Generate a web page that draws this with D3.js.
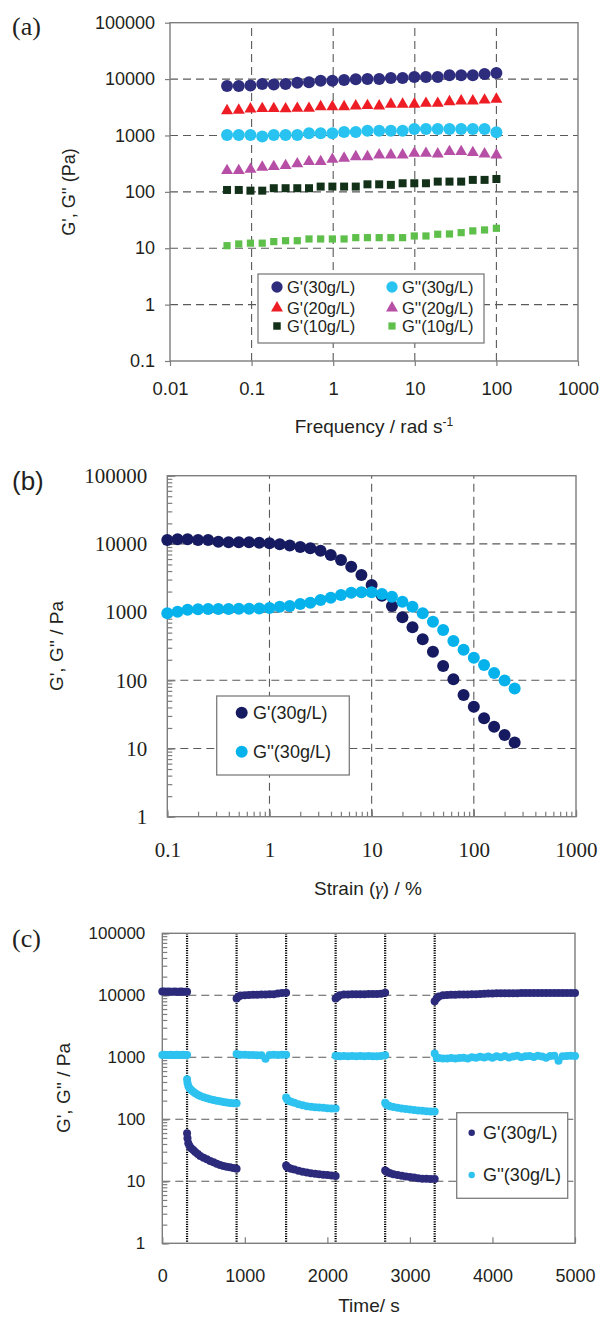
<!DOCTYPE html>
<html>
<head>
<meta charset="utf-8">
<script src="https://cdn.jsdelivr.net/npm/d3@7"></script>
<style>
  body { margin: 0; background: #fff; }
</style>
</head>
<body>
<script>
// ---------- panel (a): frequency sweep ----------
var freqA = [0.05, 0.0696, 0.0968, 0.135, 0.187, 0.261, 0.363, 0.505, 0.702, 0.977, 1.36, 1.89,
  2.63, 3.66, 5.09, 7.09, 9.86, 13.7, 19.1, 26.6, 37.0, 51.4, 71.6, 100];
var gp30A = [7550, 7550, 7700, 8150, 8050, 8150, 8600, 8800, 9300, 9300, 9600, 9900,
  10000, 10000, 10500, 10500, 10900, 10900, 10900, 11700, 11700, 11700, 12300, 12800];
var gpp30A = [1020, 1020, 1020, 955, 1020, 1020, 1020, 1094, 1094, 1094, 1155, 1155,
  1217, 1217, 1217, 1217, 1304, 1304, 1304, 1304, 1304, 1304, 1304, 1140];
var gp20A = [2750, 2800, 2950, 3000, 3000, 2960, 3030, 3030, 3240, 3240, 3240, 3340,
  3380, 3340, 3575, 3575, 3575, 3720, 3720, 3975, 4090, 4090, 4250, 4385];
var gpp20A = [238, 238, 251, 273, 280, 292, 313, 343, 343, 378, 394, 420,
  420, 451, 451, 451, 483, 483, 470, 516, 516, 496, 470, 451];
var gp10A = [108, 108, 105, 105, 116, 116, 116, 116, 124, 124, 124, 124,
  136, 136, 133, 142, 142, 142, 152, 152, 152, 163, 163, 169];
var gpp10A = [11.1, 11.9, 12.3, 12.3, 13.1, 13.6, 13.6, 14.6, 14.6, 14.6, 14.6, 15.4,
  15.4, 15.4, 15.4, 15.4, 16.5, 16.5, 17.7, 17.9, 18.9, 20.3, 21.1, 22.6];
var xTicksA = [0.01, 0.1, 1, 10, 100, 1000];
var yTicksA = [0.1, 1, 10, 100, 1000, 10000, 100000];

// ---------- panel (b): strain sweep ----------
var strainB = [0.1, 0.126, 0.158, 0.2, 0.251, 0.316, 0.398, 0.501, 0.631, 0.794, 1, 1.26,
  1.58, 2, 2.51, 3.16, 3.98, 5.01, 6.31, 7.94, 10, 12.6, 15.8, 20, 25.1, 31.6, 39.8, 50.1,
  63.1, 79.4, 100, 126, 158, 200, 251];
var gpB = [11400, 11700, 11700, 11400, 11400, 10770, 10550, 10550, 10550, 10420, 10200, 9860,
  9480, 9010, 8620, 7950, 6880, 5810, 4630, 3500, 2500, 1740, 1230, 839, 598, 399, 262, 162,
  103.5, 60.8, 41, 27.7, 20.9, 15.8, 12.2];
var gppB = [960, 1014, 1082, 1099, 1110, 1110, 1110, 1120, 1120, 1130, 1150, 1200,
  1228, 1315, 1374, 1503, 1626, 1782, 1925, 1950, 1950, 1842, 1682, 1420, 1200, 960, 723, 546,
  377, 281, 214, 167, 128, 99, 76];
var xTicksB = [0.1, 1, 10, 100, 1000];
var yTicksB = [1, 10, 100, 1000, 10000, 100000];

// ---------- panel (c): step strain / recovery ----------
var tRest1 = [0, 25, 50, 75, 100, 125, 150, 175, 200, 225, 250, 275, 300];
var gpRest1 = [11500, 11500, 11400, 11500, 11400, 11400, 11500, 11400, 11400, 11500, 11400, 11400, 11400];
var gppRest1 = [1090, 1100, 1090, 1090, 1100, 1090, 1090, 1100, 1090, 1090, 1100, 1090, 1090];

var tStrain1 = [300, 305, 315, 330, 350, 375, 400, 430, 460, 500, 540, 580, 620, 660, 700, 740, 780, 820, 860, 900];
var gpStrain1 = [59.5, 49.4, 41, 37, 34, 32, 29.7, 27.5, 25.6, 24, 22.6, 21.2, 20.2, 19.2, 18.3, 17.7, 17.2, 16.8, 16.4, 16.0];
var gppStrain1 = [442, 389, 344, 316, 297, 279, 263, 249, 238, 226, 218, 210, 205, 200, 195, 190, 186, 184, 182, 181];

var tRest2 = [900, 925, 950, 1000, 1050, 1100, 1150, 1200, 1250, 1300, 1350, 1400, 1450, 1500];
var gpRest2 = [8900, 9600, 9900, 10000, 10100, 10200, 10200, 10300, 10300, 10400, 10400, 10700, 10900, 11000];
var gppRest2 = [1130, 1100, 1100, 1100, 1090, 1090, 1080, 1080, 950, 1090, 1100, 1090, 1100, 1100];

var tStrain2 = [1500, 1510, 1530, 1560, 1600, 1650, 1700, 1750, 1800, 1850, 1900, 1950, 2000, 2050, 2100];
var gpStrain2 = [18, 17, 16.5, 16, 15.5, 14.8, 14.3, 13.9, 13.5, 13.2, 13, 12.8, 12.6, 12.4, 12.2];
var gppStrain2 = [225, 210, 200, 192, 185, 175, 168, 163, 160, 157, 155, 153, 151, 150, 149];

var tRest3 = [2100, 2125, 2150, 2200, 2250, 2300, 2350, 2400, 2450, 2500, 2550, 2600, 2650, 2700];
var gpRest3 = [8900, 9500, 10000, 10300, 10300, 10400, 10400, 10400, 10400, 10500, 10500, 10500, 10600, 11000];
var gppRest3 = [1060, 1050, 1040, 1050, 1040, 1050, 1040, 1050, 1040, 1050, 1040, 1040, 1050, 1080];

var tStrain3 = [2700, 2710, 2730, 2760, 2800, 2850, 2900, 2950, 3000, 3050, 3100, 3150, 3200, 3250, 3300];
var gpStrain3 = [15, 14.5, 14, 13.5, 13, 12.6, 12.3, 12, 11.7, 11.5, 11.2, 11, 11, 10.9, 10.9];
var gppStrain3 = [185, 175, 168, 163, 158, 153, 150, 147, 144, 141, 139, 137, 135, 134, 133];

var tRest4 = [3300, 3325, 3350, 3400, 3450, 3500, 3550, 3600, 3650, 3700, 3750, 3800, 3850, 3900,
  3950, 4000, 4050, 4100, 4150, 4200, 4250, 4300, 4350, 4400, 4450, 4500, 4550, 4600, 4650,
  4700, 4750, 4800, 4850, 4900, 4950, 5000];
var gpRest4 = [8000, 9000, 9600, 10000, 10100, 10200, 10200, 10300, 10300, 10300, 10400, 10400,
  10500, 10600, 10700, 10700, 10800, 10800, 10800, 10800, 10800, 10800, 10900, 10900, 10900,
  10900, 10900, 10900, 10900, 10900, 10900, 10900, 10900, 10900, 10900, 10900];
var gppRest4 = [1150, 980, 970, 960, 960, 970, 960, 970, 980, 960, 1000, 980, 1020, 990, 1030,
  980, 1040, 1000, 1050, 990, 1030, 1060, 1000, 1040, 1050, 1010, 1060, 1030, 980, 1050, 1060,
  880, 1040, 1050, 1060, 1050];

var stepTimes = [300, 900, 1500, 2100, 2700, 3300];
var xTicksC = [0, 1000, 2000, 3000, 4000, 5000];
var yTicksC = [1, 10, 100, 1000, 10000, 100000];

// ---------- setup ----------
var width = 602, height = 1317;
var sans = "'Liberation Sans', Arial, Helvetica, sans-serif";
var serif = "'Liberation Serif', 'Times New Roman', Times, serif";
var gridCol = "#5a5a5a", frameCol = "#7d7d7d", textCol = "#231f20";

var svg = d3.select("body").append("svg")
  .attr("width", width)
  .attr("height", height)
  .style("background", "#fff");

function addGrid(g, xs, ys, xVals, yVals) {
  var xr = xs.range(), yr = ys.range();
  g.selectAll(null).data(xVals).enter().append("line")
    .attr("x1", function(d) { return xs(d); })
    .attr("x2", function(d) { return xs(d); })
    .attr("y1", yr[0]).attr("y2", yr[1])
    .attr("stroke", gridCol).attr("stroke-width", 1.1)
    .attr("stroke-dasharray", "8,5");
  g.selectAll(null).data(yVals).enter().append("line")
    .attr("y1", function(d) { return ys(d); })
    .attr("y2", function(d) { return ys(d); })
    .attr("x1", xr[0]).attr("x2", xr[1])
    .attr("stroke", gridCol).attr("stroke-width", 1.1)
    .attr("stroke-dasharray", "8,5");
}

function addFrame(g, xs, ys) {
  var xr = xs.range(), yr = ys.range();
  g.append("rect")
    .attr("x", xr[0]).attr("y", yr[1])
    .attr("width", xr[1] - xr[0]).attr("height", yr[0] - yr[1])
    .attr("fill", "none").attr("stroke", frameCol).attr("stroke-width", 1.4);
}

function styleAxis(sel, font, size) {
  sel.select(".domain").remove();
  sel.selectAll(".tick line").attr("stroke", frameCol).attr("stroke-width", 1.2);
  sel.selectAll("text").attr("font-family", font).attr("font-size", size).attr("fill", textCol);
}

function dots(g, xv, yv, xs, ys, r, col) {
  g.selectAll(null).data(xv).enter().append("circle")
    .attr("cx", function(d) { return xs(d); })
    .attr("cy", function(d, i) { return ys(yv[i]); })
    .attr("r", r)
    .attr("fill", col);
}

function symbols(g, xv, yv, xs, ys, type, size, col) {
  g.selectAll(null).data(xv).enter().append("path")
    .attr("d", d3.symbol().type(type).size(size))
    .attr("transform", function(d, i) { return "translate(" + xs(d) + "," + ys(yv[i]) + ")"; })
    .attr("fill", col);
}

function legendBox(g, x, y, w, h) {
  g.append("rect").attr("x", x).attr("y", y).attr("width", w).attr("height", h)
    .attr("fill", "#fff").attr("stroke", frameCol).attr("stroke-width", 1.3);
}

function legendText(g, x, y, txt, size) {
  g.append("text").attr("x", x).attr("y", y).attr("dy", "0.35em")
    .attr("font-family", sans).attr("font-size", size).attr("fill", textCol)
    .text(txt);
}

// ================= panel (a) =================
var xA = d3.scaleLog().domain([0.01, 1000]).range([170, 578]);
var yA = d3.scaleLog().domain([0.1, 100000]).range([361, 22.7]);
var gA = svg.append("g");

addGrid(gA, xA, yA, [0.1, 1, 10, 100], [1, 10, 100, 1000, 10000]);

gA.append("g").attr("transform", "translate(170,0)")
  .call(d3.axisLeft(yA).tickValues(yTicksA).tickFormat(d3.format("~g")).tickSize(5).tickPadding(10))
  .call(styleAxis, sans, "18px");
gA.append("g").attr("transform", "translate(0,361)")
  .call(d3.axisBottom(xA).tickValues(xTicksA).tickFormat(d3.format("~g")).tickSize(5).tickPadding(16))
  .call(styleAxis, sans, "18.5px");
addFrame(gA, xA, yA);

var colNavyA = "#2e2c7d", colRed = "#ee1d25", colSky = "#28c3f0",
    colMag = "#b74fa6", colDkGreen = "#133019", colLtGreen = "#5fbf4b";

dots(gA, freqA, gp30A, xA, yA, 6, colNavyA);
symbols(gA, freqA, gp20A, xA, yA, d3.symbolTriangle, 62, colRed);
dots(gA, freqA, gpp30A, xA, yA, 6, colSky);
symbols(gA, freqA, gpp20A, xA, yA, d3.symbolTriangle, 62, colMag);
symbols(gA, freqA, gp10A, xA, yA, d3.symbolSquare, 64, colDkGreen);
symbols(gA, freqA, gpp10A, xA, yA, d3.symbolSquare, 52, colLtGreen);

legendBox(gA, 258, 274, 226, 69);
var legA = [
  {t: "G'(30g/L)", c: colNavyA, s: d3.symbolCircle, z: 100, x: 277, y: 287},
  {t: "G'(20g/L)", c: colRed, s: d3.symbolTriangle, z: 62, x: 277, y: 308},
  {t: "G'(10g/L)", c: colDkGreen, s: d3.symbolSquare, z: 56, x: 277, y: 326},
  {t: "G''(30g/L)", c: colSky, s: d3.symbolCircle, z: 100, x: 392, y: 287},
  {t: "G''(20g/L)", c: colMag, s: d3.symbolTriangle, z: 62, x: 392, y: 308},
  {t: "G''(10g/L)", c: colLtGreen, s: d3.symbolSquare, z: 52, x: 392, y: 326}
];
legA.forEach(function(e) {
  gA.append("path").attr("d", d3.symbol().type(e.s).size(e.z))
    .attr("transform", "translate(" + e.x + "," + e.y + ")").attr("fill", e.c);
  legendText(gA, e.x + 10, e.y, e.t, "16.5px");
});

gA.append("text").attr("x", 12).attr("y", 35)
  .attr("font-family", serif).attr("font-size", "26px").attr("fill", textCol).text("(a)");
gA.append("text")
  .attr("transform", "translate(75,192) rotate(-90)")
  .attr("text-anchor", "middle")
  .attr("font-family", sans).attr("font-size", "18px").attr("fill", textCol)
  .text("G', G'' (Pa)");
var xlabA = gA.append("text").attr("x", 374).attr("y", 433).attr("text-anchor", "middle")
  .attr("font-family", sans).attr("font-size", "19px").attr("fill", textCol);
xlabA.append("tspan").text("Frequency / rad s");
xlabA.append("tspan").attr("dy", -7).attr("font-size", "12px").text("-1");

// ================= panel (b) =================
var xB = d3.scaleLog().domain([0.1, 1000]).range([167.3, 576]);
var yB = d3.scaleLog().domain([1, 100000]).range([816.7, 475.7]);
var gB = svg.append("g");

addGrid(gB, xB, yB, [1, 10, 100], [10, 100, 1000, 10000]);

gB.append("g").attr("transform", "translate(167.3,0)")
  .call(d3.axisLeft(yB).tickValues(yB.ticks()).tickFormat("").tickSize(-5))
  .call(styleAxis, serif, "20px");
gB.append("g").attr("transform", "translate(167.3,0)")
  .call(d3.axisLeft(yB).tickValues(yTicksB).tickFormat(d3.format("~g")).tickSize(-8).tickPadding(20))
  .call(styleAxis, serif, "21px");
gB.append("g").attr("transform", "translate(0,816.7)")
  .call(d3.axisBottom(xB).tickValues(xB.ticks()).tickFormat("").tickSize(-5))
  .call(styleAxis, serif, "20px");
gB.append("g").attr("transform", "translate(0,816.7)")
  .call(d3.axisBottom(xB).tickValues(xTicksB).tickFormat(d3.format("~g")).tickSize(-7).tickPadding(25))
  .call(styleAxis, serif, "21px");
addFrame(gB, xB, yB);

var colNavyB = "#161a60", colSkyB = "#05b2ec";
dots(gB, strainB, gpB, xB, yB, 6, colNavyB);
dots(gB, strainB, gppB, xB, yB, 6, colSkyB);

legendBox(gB, 216.7, 696, 132.6, 79);
gB.append("circle").attr("cx", 241.7).attr("cy", 712.7).attr("r", 6).attr("fill", colNavyB);
gB.append("circle").attr("cx", 241.7).attr("cy", 751.7).attr("r", 6).attr("fill", colSkyB);
legendText(gB, 253, 712.7, "G'(30g/L)", "18px");
legendText(gB, 253, 751.7, "G''(30g/L)", "18px");

gB.append("text").attr("x", 12).attr("y", 490)
  .attr("font-family", sans).attr("font-size", "26px").attr("fill", textCol).text("(b)");
gB.append("text")
  .attr("transform", "translate(63,646) rotate(-90)")
  .attr("text-anchor", "middle")
  .attr("font-family", sans).attr("font-size", "19px").attr("fill", textCol)
  .text("G', G'' / Pa");
var xlabB = gB.append("text").attr("x", 368).attr("y", 895).attr("text-anchor", "middle")
  .attr("font-family", sans).attr("font-size", "19px").attr("fill", textCol);
xlabB.append("tspan").text("Strain (");
xlabB.append("tspan").attr("font-family", serif).attr("font-style", "italic").text("\u03b3");
xlabB.append("tspan").text(") / %");

// ================= panel (c) =================
var xC = d3.scaleLinear().domain([0, 5000]).range([162.3, 575]);
var yC = d3.scaleLog().domain([1, 100000]).range([1243.3, 933.3]);
var gC = svg.append("g");

addGrid(gC, xC, yC, [], [10, 100, 1000, 10000]);

gC.selectAll(".step").data(stepTimes).enter().append("line")
  .attr("class", "step")
  .attr("x1", function(d) { return xC(d); })
  .attr("x2", function(d) { return xC(d); })
  .attr("y1", 933.3).attr("y2", 1243.3)
  .attr("stroke", "#000").attr("stroke-width", 2.2)
  .attr("stroke-dasharray", "1.2,1.2");

gC.append("g").attr("transform", "translate(162.3,0)")
  .call(d3.axisLeft(yC).tickValues(yC.ticks()).tickFormat("").tickSize(-5))
  .call(styleAxis, sans, "17px");
gC.append("g").attr("transform", "translate(162.3,0)")
  .call(d3.axisLeft(yC).tickValues(yTicksC).tickFormat(d3.format("~g")).tickSize(-7).tickPadding(17))
  .call(styleAxis, sans, "17px");
gC.append("g").attr("transform", "translate(0,1243.3)")
  .call(d3.axisBottom(xC).tickValues(xTicksC).tickFormat(d3.format("d")).tickSize(-6).tickPadding(26))
  .call(styleAxis, sans, "18px");
addFrame(gC, xC, yC);

var colNavyC = "#2b2a7b", colSkyC = "#2dc2ef";
var segsC = [
  [tRest1, gpRest1, gppRest1], [tStrain1, gpStrain1, gppStrain1],
  [tRest2, gpRest2, gppRest2], [tStrain2, gpStrain2, gppStrain2],
  [tRest3, gpRest3, gppRest3], [tStrain3, gpStrain3, gppStrain3],
  [tRest4, gpRest4, gppRest4]
];
segsC.forEach(function(s) {
  dots(gC, s[0], s[2], xC, yC, 4, colSkyC);
  dots(gC, s[0], s[1], xC, yC, 4, colNavyC);
});

legendBox(gC, 456.7, 1112.7, 111, 85.6);
gC.append("circle").attr("cx", 471.7).attr("cy", 1132.7).attr("r", 3.2).attr("fill", colNavyC);
gC.append("circle").attr("cx", 471.7).attr("cy", 1175).attr("r", 3.2).attr("fill", colSkyC);
legendText(gC, 483, 1132.7, "G'(30g/L)", "18px");
legendText(gC, 483, 1175, "G''(30g/L)", "18px");

gC.append("text").attr("x", 12).attr("y", 947)
  .attr("font-family", serif).attr("font-size", "26px").attr("fill", textCol).text("(c)");
gC.append("text")
  .attr("transform", "translate(70,1088) rotate(-90)")
  .attr("text-anchor", "middle")
  .attr("font-family", sans).attr("font-size", "19px").attr("fill", textCol)
  .text("G', G'' / Pa");
gC.append("text").attr("x", 369).attr("y", 1312).attr("text-anchor", "middle")
  .attr("font-family", sans).attr("font-size", "19px").attr("fill", textCol)
  .text("Time/ s");
</script>
</body>
</html>
